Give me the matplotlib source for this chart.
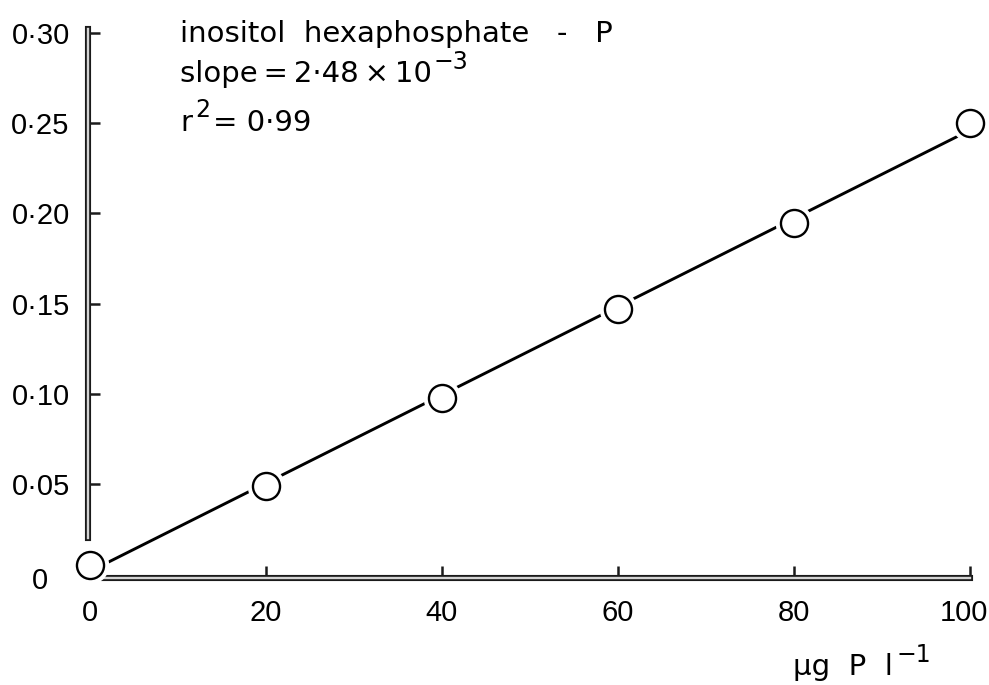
"""Standard curve: absorbance vs inositol hexaphosphate-P concentration."""

import matplotlib

matplotlib.use("Agg")
import matplotlib.pyplot as plt  # noqa: E402
import matplotlib.patheffects as pe  # noqa: E402
import matplotlib.transforms as mtrans  # noqa: E402
import numpy as np  # noqa: E402

plt.rcParams.update(
    {
        "font.family": ["DejaVu Sans"],
        "font.size": 21,
    }
)
TICKFONT = ["Liberation Sans", "DejaVu Sans"]

# data
conc = [0, 20, 40, 60, 80, 100]  # µg P l-1
absorb = [0.005, 0.049, 0.0975, 0.147, 0.1945, 0.250]
x_ticks = [0, 20, 40, 60, 80, 100]
y_ticks = [0, 0.05, 0.10, 0.15, 0.20, 0.25, 0.30]
y_labels = ["0", "0·05", "0·10", "0·15", "0·20", "0·25", "0·30"]

W, H = 989, 685
fig = plt.figure(figsize=(W / 100, H / 100), dpi=100)
ax = fig.add_axes((0.0465, 0.1353, 0.952, 0.8432))
ax.set_xlim(-5, 102)
ax.set_ylim(-0.01, 0.31)

# least-squares line through the standards
slope, icpt = np.polyfit(conc, absorb, 1)
xs = np.array([conc[0], conc[-1]])
ax.plot(xs, slope * xs + icpt, color="black", lw=2.1, zorder=2, solid_capstyle="butt")
# white halo so the line stops short of each circle
ax.plot(conc, absorb, "o", ms=26, color="white", mec="white", zorder=3)
ax.plot(conc, absorb, "o", ms=19.5, mfc="white", mec="black", mew=1.7, zorder=4)

# scanned double-line axes
axis_fx = [pe.Stroke(linewidth=4.4, foreground="#1a1a1a"), pe.Normal()]
for side in ("top", "right"):
    ax.spines[side].set_visible(False)
for side in ("left", "bottom"):
    sp = ax.spines[side]
    sp.set_color("#d4d4d4")
    sp.set_linewidth(1.7)
    sp.set_path_effects(axis_fx)
ax.spines["left"].set_position(("data", -0.25))
ax.spines["left"].set_bounds(0.02, 0.302)
ax.spines["bottom"].set_position(("data", -0.002))
ax.spines["bottom"].set_bounds(1.6, 100)

ax.set_xticks(x_ticks)
ax.set_xticklabels([str(v) for v in x_ticks], family=TICKFONT, fontsize=21)
ax.set_yticks(y_ticks)
ax.set_yticklabels(y_labels, family=TICKFONT, fontsize=21)
ax.tick_params(axis="both", direction="in", length=8.5, width=1.8, color="#1a1a1a")
ax.tick_params(axis="x", pad=15)
ax.tick_params(axis="y", pad=13)
ax.xaxis.get_major_ticks()[0].tick1line.set_visible(False)
ax.yaxis.get_major_ticks()[0].tick1line.set_visible(False)


def nudge(label, dx_px, dy_px):
    off = mtrans.ScaledTranslation(dx_px / 100, dy_px / 100, fig.dpi_scale_trans)
    label.set_transform(label.get_transform() + off)


# hand-lettered labels in the scan are not perfectly aligned
nudge(ax.get_xticklabels()[-1], -6, 0)
nudge(ax.get_yticklabels()[0], -22, -4)
ax.patch.set_visible(False)

renderer = fig.canvas.get_renderer()


def text_px(x, y, s, **kw):
    """Place text at pixel coords measured from the top-left; return right edge (px)."""
    t = fig.text(x / W, 1 - y / H, s, va="baseline", **kw)
    return t.get_window_extent(renderer).x1


def with_sup(x, y, base, sup, after="", size=21, sup_size=17, rise=13, gap=2):
    x1 = text_px(x, y, base, fontsize=size)
    x2 = text_px(x1 + gap, y - rise, sup, fontsize=sup_size)
    if after:
        text_px(x2 + gap, y, after, fontsize=size)


# annotation block, top left
text_px(180, 42, "inositol  hexaphosphate   -   P")
with_sup(180, 82, "slope\u2009=\u20092·48\u2009×\u200910", "−3")
with_sup(180, 131, "r", "2", after="= 0·99", rise=14, gap=3)

# x-axis unit label, bottom right
with_sup(793, 675, "μg  P  l", "−1", rise=13, gap=4)

fig.savefig("out.png", dpi=100)
plt.close(fig)
